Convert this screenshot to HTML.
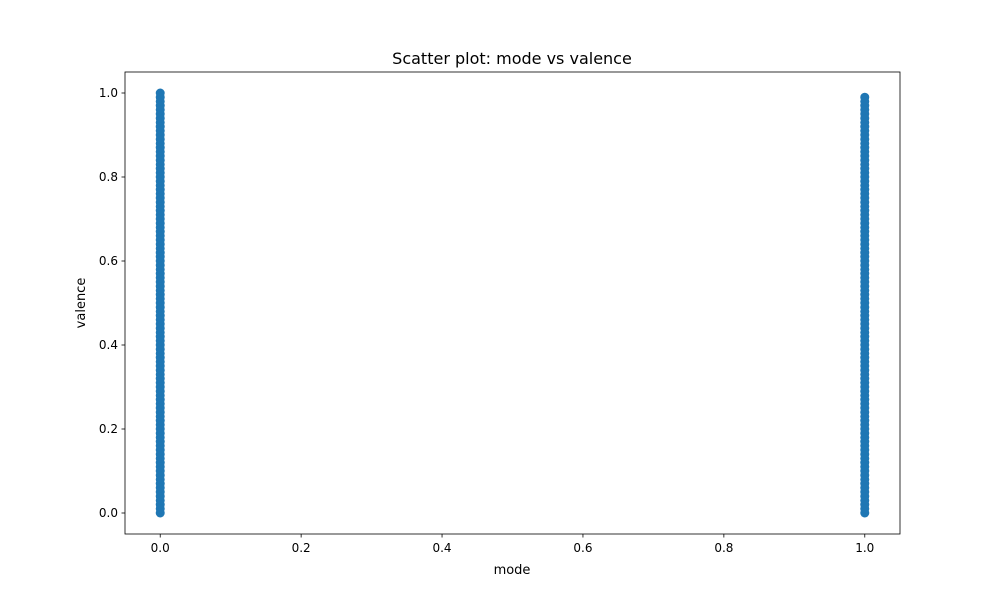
<!DOCTYPE html>
<html><head><meta charset="utf-8"><style>
body{margin:0;background:#fff;}
svg{display:block;font-family:"DejaVu Sans","Liberation Sans",sans-serif;}
</style></head><body>
<svg id="chart" width="1000" height="600">
<rect width="1000" height="600" fill="#fff"/>
<g id="points"></g>
<g id="axes"></g>
<text x="512" y="64" text-anchor="middle" font-size="16">Scatter plot: mode vs valence</text>
<text x="512" y="574" text-anchor="middle" font-size="13">mode</text>
<text transform="translate(85,303) rotate(-90)" text-anchor="middle" font-size="13">valence</text>
</svg>
<script>
const modeCategories = [0, 1];
const valenceMode0 = [0.00,0.01,0.02,0.03,0.04,0.05,0.06,0.07,0.08,0.09,0.10,0.11,0.12,0.13,0.14,0.15,0.16,0.17,0.18,0.19,0.20,0.21,0.22,0.23,0.24,0.25,0.26,0.27,0.28,0.29,0.30,0.31,0.32,0.33,0.34,0.35,0.36,0.37,0.38,0.39,0.40,0.41,0.42,0.43,0.44,0.45,0.46,0.47,0.48,0.49,0.50,0.51,0.52,0.53,0.54,0.55,0.56,0.57,0.58,0.59,0.60,0.61,0.62,0.63,0.64,0.65,0.66,0.67,0.68,0.69,0.70,0.71,0.72,0.73,0.74,0.75,0.76,0.77,0.78,0.79,0.80,0.81,0.82,0.83,0.84,0.85,0.86,0.87,0.88,0.89,0.90,0.91,0.92,0.93,0.94,0.95,0.96,0.97,0.98,0.99,1.00];
const valenceMode1 = [0.00,0.01,0.02,0.03,0.04,0.05,0.06,0.07,0.08,0.09,0.10,0.11,0.12,0.13,0.14,0.15,0.16,0.17,0.18,0.19,0.20,0.21,0.22,0.23,0.24,0.25,0.26,0.27,0.28,0.29,0.30,0.31,0.32,0.33,0.34,0.35,0.36,0.37,0.38,0.39,0.40,0.41,0.42,0.43,0.44,0.45,0.46,0.47,0.48,0.49,0.50,0.51,0.52,0.53,0.54,0.55,0.56,0.57,0.58,0.59,0.60,0.61,0.62,0.63,0.64,0.65,0.66,0.67,0.68,0.69,0.70,0.71,0.72,0.73,0.74,0.75,0.76,0.77,0.78,0.79,0.80,0.81,0.82,0.83,0.84,0.85,0.86,0.87,0.88,0.89,0.90,0.91,0.92,0.93,0.94,0.95,0.96,0.97,0.98,0.99];
const xTicks = [0.0,0.2,0.4,0.6,0.8,1.0];
const yTicks = [0.0,0.2,0.4,0.6,0.8,1.0];

const L=125,R=900,T=72,B=534;
const xMin=-0.05,xMax=1.05,yMin=-0.05,yMax=1.05;
const xs=v=>L+(v-xMin)/(xMax-xMin)*(R-L);
const ys=v=>B-(v-yMin)/(yMax-yMin)*(B-T);
const NS="http://www.w3.org/2000/svg";
const pts=document.getElementById('points');
const ax=document.getElementById('axes');
[valenceMode0,valenceMode1].forEach((arr,i)=>{
  arr.forEach(v=>{
    const c=document.createElementNS(NS,'circle');
    c.setAttribute('cx',xs(modeCategories[i]));
    c.setAttribute('cy',ys(v));
    c.setAttribute('r',4.5);
    c.setAttribute('fill','#1f77b4');
    
    
    pts.appendChild(c);
  });
});
const frame=document.createElementNS(NS,'rect');
frame.setAttribute('x',L);frame.setAttribute('y',T);
frame.setAttribute('width',R-L);frame.setAttribute('height',B-T);
frame.setAttribute('fill','none');frame.setAttribute('stroke','#000');frame.setAttribute('stroke-width',0.8);


ax.appendChild(frame);
xTicks.forEach(t=>{
  const x=xs(t);
  const l=document.createElementNS(NS,'line');
  l.setAttribute('x1',x);l.setAttribute('x2',x);l.setAttribute('y1',B);l.setAttribute('y2',B+3.5);l.setAttribute('stroke','#000');l.setAttribute('stroke-width',0.8);
  
  
  ax.appendChild(l);
  const tx=document.createElementNS(NS,'text');
  tx.setAttribute('x',x);tx.setAttribute('y',B+18);tx.setAttribute('text-anchor','middle');tx.setAttribute('font-size','12');
  tx.textContent=t.toFixed(1);
  
  
  ax.appendChild(tx);
});
yTicks.forEach(t=>{
  const y=ys(t);
  const l=document.createElementNS(NS,'line');
  l.setAttribute('x1',L-3.5);l.setAttribute('x2',L);l.setAttribute('y1',y);l.setAttribute('y2',y);l.setAttribute('stroke','#000');l.setAttribute('stroke-width',0.8);
  
  
  ax.appendChild(l);
  const tx=document.createElementNS(NS,'text');
  tx.setAttribute('x',L-7);tx.setAttribute('y',y+4);tx.setAttribute('text-anchor','end');tx.setAttribute('font-size','12');
  tx.textContent=t.toFixed(1);
  
  
  ax.appendChild(tx);
});
</script>
</body></html>
